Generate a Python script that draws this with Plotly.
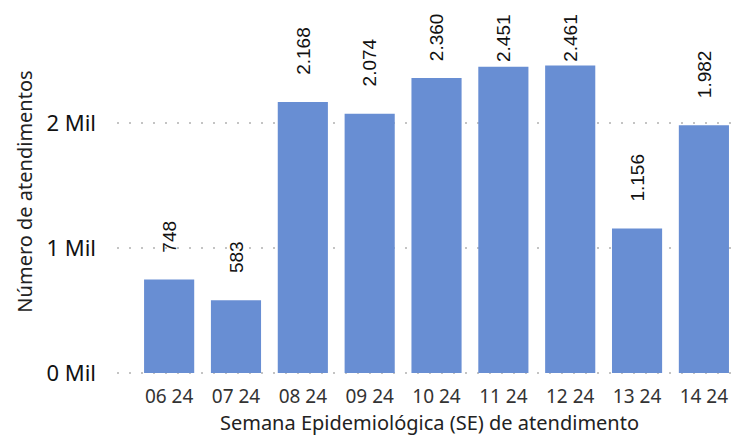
import plotly.graph_objects as go

weeks = ["06 24", "07 24", "08 24", "09 24", "10 24", "11 24", "12 24", "13 24", "14 24"]
values = [748, 583, 2168, 2074, 2360, 2451, 2461, 1156, 1982]
labels = ["748", "583", "2.168", "2.074", "2.360", "2.451", "2.461", "1.156", "1.982"]
y_ticks = [0, 1000, 2000]
y_ticktext = ["0 Mil", "1 Mil", "2 Mil"]

bar_color = "#688ed3"
axis_font = "Noto Sans"

fig = go.Figure()
fig.add_trace(go.Bar(x=weeks, y=values, marker_color=bar_color, marker_line_width=0, width=0.75))

label_cap = 2475
for w, v, t in zip(weeks, values, labels):
    fig.add_annotation(x=w, y=min(v + 200, label_cap), text=t, showarrow=False,
                       textangle=-90, yanchor="bottom", xanchor="center",
                       font=dict(family="Liberation Sans", size=19, color="#111111"))

fig.update_layout(
    width=742, height=435,
    margin=dict(l=109, r=8, t=0, b=68),
    plot_bgcolor="white", paper_bgcolor="white",
    showlegend=False,
    xaxis=dict(type="category", range=[-0.78, 8.57], showgrid=False, showline=False,
               ticks="", ticklabelstandoff=8,
               tickfont=dict(family=axis_font, size=19, color="#333333"),
               title=dict(text="Semana Epidemiológica (SE) de atendimento",
                          font=dict(family=axis_font, size=20, color="#222222"), standoff=1)),
    yaxis=dict(range=[-16, 2920], tickvals=y_ticks, ticktext=y_ticktext,
               showgrid=True, gridcolor="#c4c4c4", griddash="2px,10px", gridwidth=2,
               zeroline=False, showline=False, ticks="", ticklabelstandoff=20,
               tickfont=dict(family=axis_font, size=22, color="#111111"),
               title=dict(text="Número de atendimentos",
                          font=dict(family=axis_font, size=20, color="#222222"), standoff=8)),
)

fig.write_html("out.html")
